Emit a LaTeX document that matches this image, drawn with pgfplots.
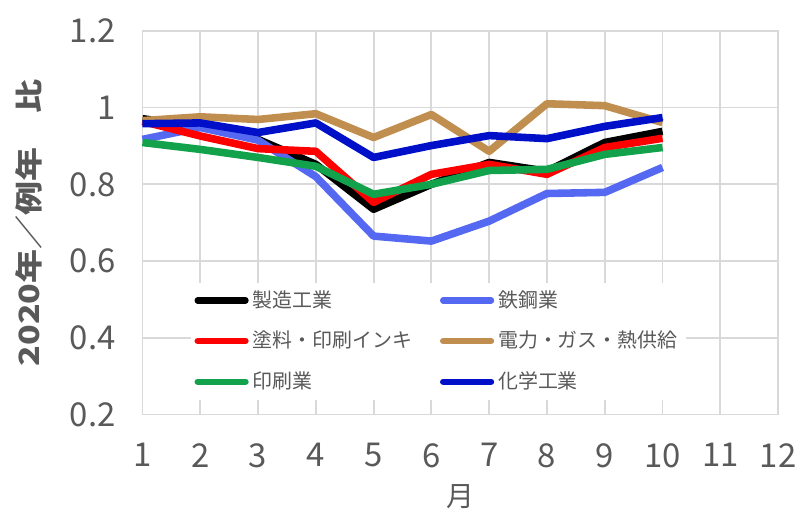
\documentclass[border=0pt]{standalone}
\usepackage{pgfplots}
\pgfplotsset{compat=1.18}
\usepackage{fontspec}
\setmainfont{Noto Sans CJK JP}

\definecolor{gridgray}{HTML}{D9D9D9}
\definecolor{ticktext}{HTML}{595959}
\definecolor{steelblue}{HTML}{5468F2}
\definecolor{inkred}{HTML}{FF0000}
\definecolor{powerbrown}{HTML}{C08F4F}
\definecolor{printgreen}{HTML}{12A24C}
\definecolor{chemblue}{HTML}{0010C8}

\begin{document}
\begin{tikzpicture}
\begin{axis}[
  scale only axis,
  width=319pt, height=192.5pt,
  xmin=1, xmax=12, ymin=0.2, ymax=1.2,
  xtick={1,...,12}, ytick={0.2,0.4,...,1.2},
  yticklabels={0.2,0.4,0.6,0.8,1,1.2},
  grid=major,
  major grid style={gridgray, line width=0.9pt},
  axis line style={gridgray, line width=0.9pt},
  major tick length=0pt,
  /pgf/number format/assume math mode=true,
  tick label style={font=\fontsize{16.5}{19}\selectfont, text=ticktext},
  xticklabel style={yshift=-11pt},
  yticklabel style={xshift=-10pt},
  xlabel={月},
  xlabel style={font=\fontsize{14}{16}\selectfont, text=ticktext,
    at={(rel axis cs:0.5,-0.215)}, anchor=center},
  ylabel={2020年／例年　比},
  ylabel style={font=\bfseries\fontsize{14}{16}\selectfont, text=ticktext,
    at={(rel axis cs:-0.178,0.5)}, anchor=center, xscale=1.22},
  clip=false,
  legend columns=2,
  legend cell align=left,
  legend style={at={(rel axis cs:0.075,0.345)}, anchor=north west,
    draw=none, fill=white, font=\fontsize{10}{12}\selectfont,
    text=ticktext, row sep=6.5pt, inner sep=2pt,
    /tikz/every even column/.append style={column sep=12pt}},
  legend image code/.code={
    \draw[#1, line width=3.2pt, line cap=round] (0pt,0pt) -- (24pt,0pt);},
  every axis plot/.append style={line width=3.8pt, line join=round, mark=none},
]
% Manufacturing overall
\addplot[black] coordinates {
  (1,0.971) (2,0.950) (3,0.917) (4,0.852) (5,0.735)
  (6,0.800) (7,0.857) (8,0.834) (9,0.909) (10,0.938)};
\addlegendentry{製造工業}
% Steel
\addplot[steelblue] coordinates {
  (1,0.917) (2,0.948) (3,0.915) (4,0.820) (5,0.665)
  (6,0.652) (7,0.704) (8,0.776) (9,0.779) (10,0.844)};
\addlegendentry{鉄鋼業}
% Paint and printing ink
\addplot[inkred] coordinates {
  (1,0.964) (2,0.926) (3,0.893) (4,0.886) (5,0.753)
  (6,0.826) (7,0.852) (8,0.826) (9,0.896) (10,0.920)};
\addlegendentry{塗料・印刷インキ}
% Electricity, gas and heat supply
\addplot[powerbrown] coordinates {
  (1,0.966) (2,0.976) (3,0.969) (4,0.984) (5,0.922)
  (6,0.982) (7,0.886) (8,1.010) (9,1.005) (10,0.961)};
\addlegendentry{電力・ガス・熱供給}
% Printing
\addplot[printgreen] coordinates {
  (1,0.909) (2,0.891) (3,0.870) (4,0.847) (5,0.774)
  (6,0.800) (7,0.836) (8,0.839) (9,0.878) (10,0.896)};
\addlegendentry{印刷業}
% Chemicals
\addplot[chemblue] coordinates {
  (1,0.958) (2,0.960) (3,0.935) (4,0.960) (5,0.870)
  (6,0.901) (7,0.927) (8,0.919) (9,0.951) (10,0.974)};
\addlegendentry{化学工業}
% page extent
\path (rel axis cs:-0.2241,-0.247) rectangle (rel axis cs:1.0345,1.0805);
\end{axis}
\end{tikzpicture}
\end{document}
